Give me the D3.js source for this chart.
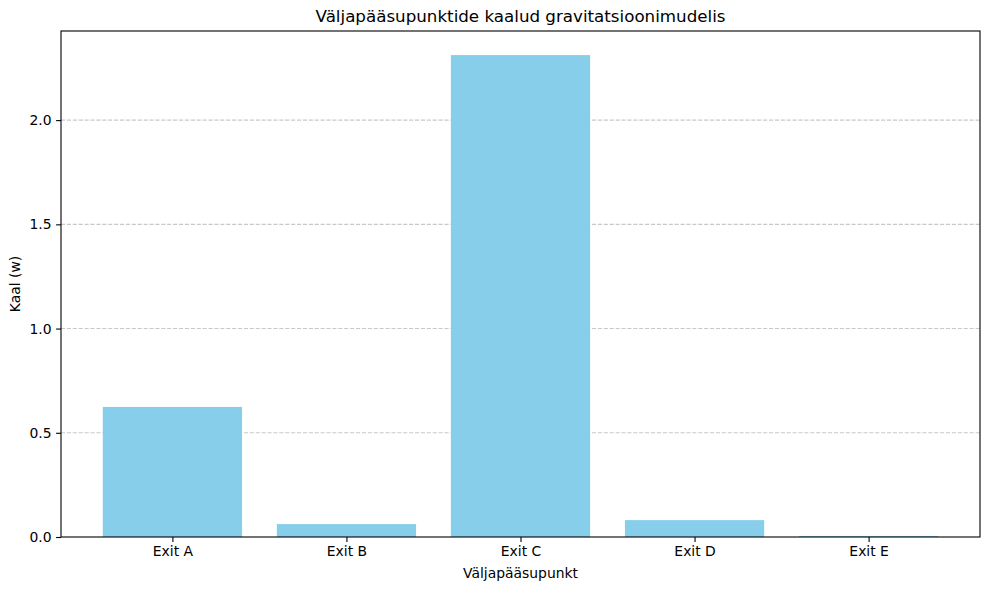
<!DOCTYPE html>
<html>
<head>
<meta charset="utf-8">
<script src="https://cdn.jsdelivr.net/npm/d3@7"></script>
<style>
  html, body { margin: 0; padding: 0; background: #fff; }
  svg { display: block; font-family: "DejaVu Sans", sans-serif; }
</style>
</head>
<body>
<svg id="chart" width="989" height="590"></svg>
<script>
const categories = ["Exit A", "Exit B", "Exit C", "Exit D", "Exit E"];
const weights = [0.624, 0.062, 2.312, 0.081, 0.005];
const yTicks = [0.0, 0.5, 1.0, 1.5, 2.0];
const titleText = "Väljapääsupunktide kaalud gravitatsioonimudelis";
const xLabelText = "Väljapääsupunkt";
const yLabelText = "Kaal (w)";

const W = 989, H = 590;
const margin = { left: 61, right: 9, top: 31, bottom: 53 };
const plotW = W - margin.left - margin.right;
const plotH = H - margin.top - margin.bottom;

const svg = d3.select("#chart");
const g = svg.append("g").attr("transform", `translate(${margin.left},${margin.top})`);

// matplotlib-like categorical x: positions 0..n-1, bar width 0.8, 5% margins
const n = categories.length;
const xmin = -0.4 - 0.05 * (n - 1 + 0.8), xmax = n - 1 + 0.4 + 0.05 * (n - 1 + 0.8);
const x = d3.scaleLinear().domain([xmin, xmax]).range([0, plotW]);
const ymax = d3.max(weights) * 1.05;
const y = d3.scaleLinear().domain([0, ymax]).range([plotH, 0]);

// grid
g.append("g").selectAll("line").data(yTicks.filter(t => t > 0)).join("line")
  .attr("x1", 0).attr("x2", plotW)
  .attr("y1", d => y(d)).attr("y2", d => y(d))
  .attr("stroke", "#b0b0b0").attr("stroke-opacity", 0.7)
  .attr("stroke-width", 1.1).attr("stroke-dasharray", "4.1,1.8");

// bars
g.append("g").selectAll("rect").data(weights).join("rect")
  .attr("x", (d, i) => x(i - 0.4))
  .attr("width", (d, i) => x(i + 0.4) - x(i - 0.4))
  .attr("y", d => y(d))
  .attr("height", d => y(0) - y(d))
  .attr("fill", "#87CEEB");

// axes
const xAxis = d3.axisBottom(x).tickValues(d3.range(n)).tickFormat(i => categories[i])
  .tickSize(4.9).tickPadding(4.5);
const yAxis = d3.axisLeft(y).tickValues(yTicks).tickFormat(d3.format(".1f"))
  .tickSize(4.9).tickPadding(4.5);

const gx = g.append("g").attr("transform", `translate(0,${plotH})`).call(xAxis);
const gy = g.append("g").call(yAxis);
[gx, gy].forEach(a => {
  a.select(".domain").remove();
  a.selectAll(".tick line").attr("stroke", "#000").attr("stroke-width", 1.1);
  a.selectAll(".tick text").attr("fill", "#000").style("font-size", "13.9px")
    .style("font-family", '"DejaVu Sans", sans-serif');
});

// spines
g.append("rect").attr("x", 0).attr("y", 0).attr("width", plotW).attr("height", plotH)
  .attr("fill", "none").attr("stroke", "#000").attr("stroke-width", 1.1);

// labels
svg.append("text").attr("x", margin.left + plotW / 2).attr("y", 22)
  .attr("text-anchor", "middle").style("font-size", "16.7px").text(titleText);
svg.append("text").attr("x", margin.left + plotW / 2).attr("y", 578)
  .attr("text-anchor", "middle").style("font-size", "13.9px").text(xLabelText);
svg.append("text").attr("transform", `translate(20,${margin.top + plotH / 2}) rotate(-90)`)
  .attr("text-anchor", "middle").style("font-size", "13.9px").text(yLabelText);
</script>
</body>
</html>
